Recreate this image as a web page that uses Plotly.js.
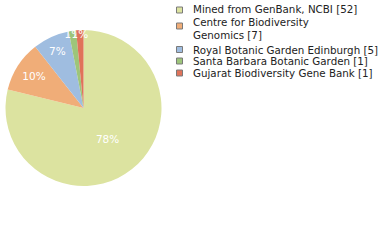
<!DOCTYPE html>
<html><head><meta charset="utf-8">
<script src="https://cdn.plot.ly/plotly-3.0.1.min.js"></script>
<style>html,body{margin:0;padding:0;background:#fff;}#chart{width:380px;height:240px;}</style>
</head><body><div id="chart"></div>
<script>
const labels = ["Mined from GenBank, NCBI [52]", "Centre for Biodiversity<br>Genomics [7]", "Royal Botanic Garden Edinburgh [5]", "Santa Barbara Botanic Garden [1]", "Gujarat Biodiversity Gene Bank [1]"];
const values = [52, 7, 5, 1, 1];
const colors = ["#dce3a0", "#f0ad78", "#9fbde0", "#9dc57a", "#e0735a"];
const total = values.reduce((a,b)=>a+b,0);
const pctText = values.map(v => Math.floor(v/total*100) + "%");

// legend layout (positions in pixels from top-left)
const W = 380, H = 240;
const rowTextY = [9.5, 28, 49.5, 61, 73];
const rowBoxY  = [10, 26, 49.5, 61, 73];
const boxX0 = 176.5, boxX1 = 182.5, textX = 191;
const annotations = labels.map((lab, i) => ({
  xref: "paper", yref: "paper",
  x: textX / W, y: 1 - rowTextY[i] / H,
  xanchor: "left", yanchor: "middle", align: "left",
  text: lab, showarrow: false,
  font: {family: "DejaVu Sans", size: 10.3, color: "#222"}
}));
const shapes = colors.map((c, i) => ({
  type: "rect", xref: "paper", yref: "paper",
  x0: boxX0 / W, x1: boxX1 / W,
  y0: 1 - (rowBoxY[i] - 3) / H, y1: 1 - (rowBoxY[i] + 3) / H,
  fillcolor: c, line: {color: "#7a7a7a", width: 1}
}));

Plotly.newPlot("chart", [{
  type: "pie",
  labels: labels,
  values: values,
  text: pctText,
  textinfo: "text",
  hoverinfo: "label+value",
  sort: false,
  direction: "clockwise",
  rotation: 0,
  marker: {colors: colors, line: {width: 0}},
  textposition: "inside",
  insidetextorientation: "horizontal",
  insidetextfont: {color: "#ffffff", size: 10.5, family: "DejaVu Sans"},
  domain: {x: [5/380, 162/380], y: [1-186/240, 1-30/240]}
}], {
  width: W, height: H,
  margin: {l: 0, r: 0, t: 0, b: 0},
  paper_bgcolor: "#ffffff",
  showlegend: false,
  uniformtext: {mode: "show", minsize: 10.5},
  annotations: annotations,
  shapes: shapes
}, {staticPlot: true});
</script></body></html>
